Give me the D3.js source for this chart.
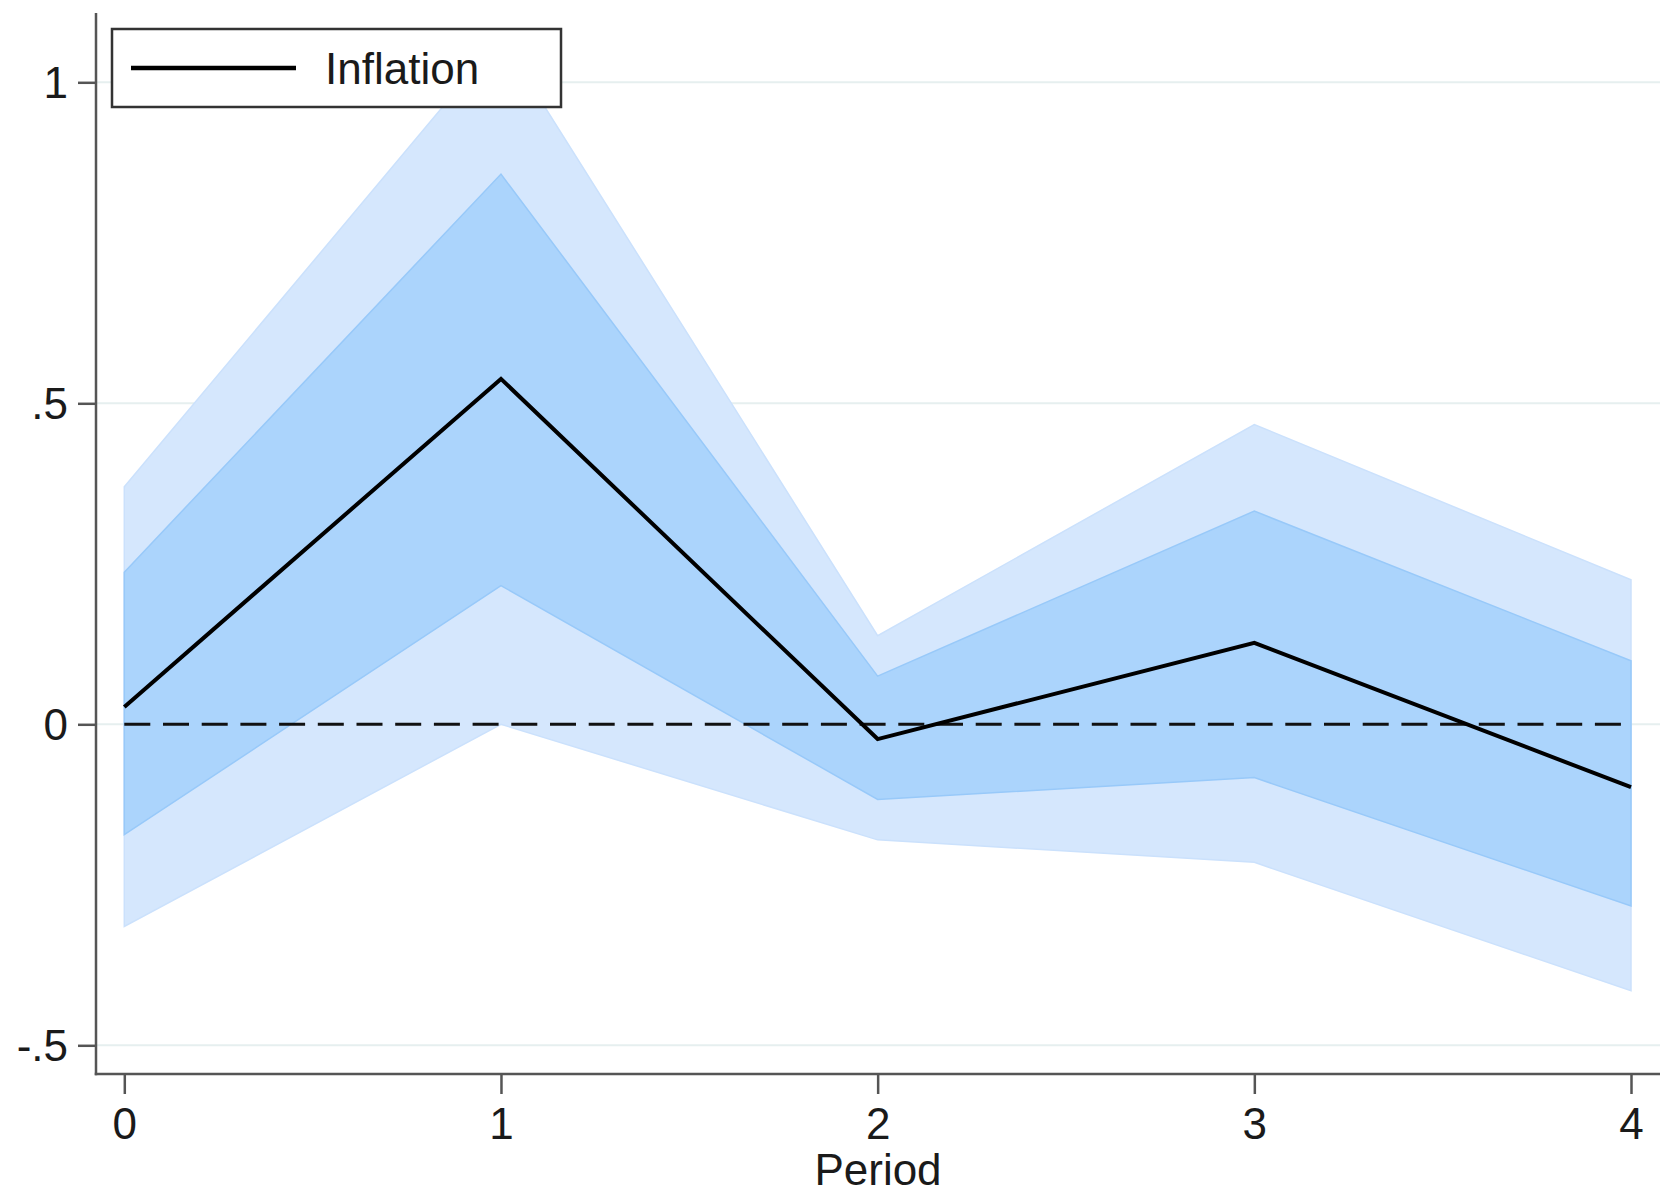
<!DOCTYPE html>
<html>
<head>
<meta charset="utf-8">
<script src="https://cdn.jsdelivr.net/npm/d3@7"></script>
<style>
  body { margin: 0; background: #fff; }
  svg { display: block; font-family: "Liberation Sans", Arial, sans-serif; }
</style>
</head>
<body>
<svg id="chart" width="1666" height="1197"></svg>
<script>
// impulse response of inflation
const periods = [0, 1, 2, 3, 4];
const irf = [0.027, 0.538, -0.023, 0.127, -0.098];
const ci68_hi = [0.237, 0.857, 0.075, 0.332, 0.099];
const ci68_lo = [-0.172, 0.216, -0.117, -0.083, -0.283];
const ci90_hi = [0.370, 1.070, 0.138, 0.467, 0.225];
const ci90_lo = [-0.315, 0.000, -0.180, -0.215, -0.415];

const yTicks = [-0.5, 0, 0.5, 1];
const yTickLabels = ['-.5', '0', '.5', '1'];
const xTickLabels = ['0', '1', '2', '3', '4'];
const seriesName = 'Inflation';
const xTitle = 'Period';

// plot box
const plotLeft = 96, plotRight = 1660, plotTop = 13, plotBottom = 1074;
const fontSize = 44;

const svg = d3.select('#chart');

const x = d3.scaleLinear().domain([0, 4]).range([124.3, 1631]);
const y = d3.scaleLinear().domain([-0.5, 1]).range([1045.3, 82.3]);

const rows = periods.map((p, i) => ({
    p: p, v: irf[i],
    lo68: ci68_lo[i], hi68: ci68_hi[i],
    lo90: ci90_lo[i], hi90: ci90_hi[i]
}));

// gridlines
svg.append('g')
    .selectAll('line')
    .data(yTicks)
    .join('line')
    .attr('x1', plotLeft).attr('x2', plotRight)
    .attr('y1', d => y(d)).attr('y2', d => y(d))
    .attr('stroke', '#e6efef')
    .attr('stroke-width', 2);

// bands
const area90 = d3.area().x(d => x(d.p)).y0(d => y(d.lo90)).y1(d => y(d.hi90));
const area68 = d3.area().x(d => x(d.p)).y0(d => y(d.lo68)).y1(d => y(d.hi68));

svg.append('path')
    .datum(rows)
    .attr('d', area90)
    .attr('fill', 'rgb(213,231,253)')
    .attr('stroke', 'rgb(203,225,252)')
    .attr('stroke-width', 1.5);

svg.append('path')
    .datum(rows)
    .attr('d', area68)
    .attr('fill', 'rgb(171,212,252)')
    .attr('stroke', 'rgb(152,201,249)')
    .attr('stroke-width', 1.5);

// zero reference line
svg.append('line')
    .attr('x1', x(0)).attr('x2', x(4))
    .attr('y1', y(0)).attr('y2', y(0))
    .attr('stroke', '#111')
    .attr('stroke-width', 3)
    .attr('stroke-dasharray', '26,12.7');

// response line
const line = d3.line().x(d => x(d.p)).y(d => y(d.v));
svg.append('path')
    .datum(rows)
    .attr('d', line)
    .attr('fill', 'none')
    .attr('stroke', '#000')
    .attr('stroke-width', 4)
    .attr('stroke-linejoin', 'miter');

// axes
const yAxis = d3.axisLeft(y)
    .tickValues(yTicks)
    .tickFormat((d, i) => yTickLabels[i])
    .tickSize(18)
    .tickPadding(10);

const gy = svg.append('g')
    .attr('transform', `translate(${plotLeft},0)`)
    .call(yAxis);

const xAxis = d3.axisBottom(x)
    .tickValues(periods)
    .tickFormat((d, i) => xTickLabels[i])
    .tickSize(20)
    .tickPadding(14);

const gx = svg.append('g')
    .attr('transform', `translate(0,${plotBottom})`)
    .call(xAxis);

[gx, gy].forEach(g => {
    g.select('.domain').remove();
    g.selectAll('.tick line').attr('stroke', '#555').attr('stroke-width', 2.5);
    g.selectAll('.tick text')
        .attr('fill', '#1a1a1a')
        .style('font-size', fontSize + 'px')
        .style('font-family', '"Liberation Sans", Arial, sans-serif');
});
gy.selectAll('.tick text').attr('dy', '0.35em');

svg.append('line')
    .attr('x1', plotLeft).attr('x2', plotLeft)
    .attr('y1', plotTop).attr('y2', plotBottom + 1.25)
    .attr('stroke', '#555').attr('stroke-width', 2.5);
svg.append('line')
    .attr('x1', plotLeft - 1.25).attr('x2', plotRight)
    .attr('y1', plotBottom).attr('y2', plotBottom)
    .attr('stroke', '#555').attr('stroke-width', 2.5);

// x title
svg.append('text')
    .attr('x', (plotLeft + plotRight) / 2)
    .attr('y', 1185)
    .attr('text-anchor', 'middle')
    .attr('fill', '#1a1a1a')
    .style('font-size', fontSize + 'px')
    .text(xTitle);

// legend
const legend = svg.append('g').attr('transform', 'translate(112,29)');
legend.append('rect')
    .attr('width', 449).attr('height', 78)
    .attr('fill', '#fff')
    .attr('stroke', '#333')
    .attr('stroke-width', 2.5);
legend.append('line')
    .attr('x1', 19).attr('x2', 184)
    .attr('y1', 39).attr('y2', 39)
    .attr('stroke', '#000')
    .attr('stroke-width', 4.5);
legend.append('text')
    .attr('x', 213).attr('y', 55)
    .attr('fill', '#1a1a1a')
    .style('font-size', fontSize + 'px')
    .text(seriesName);
</script>
</body>
</html>
